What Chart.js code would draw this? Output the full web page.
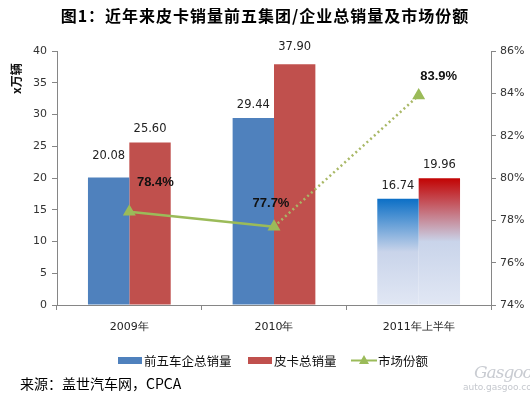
<!DOCTYPE html>
<html>
<head>
<meta charset="utf-8">
<script src="https://cdn.jsdelivr.net/npm/chart.js@4"></script>
<style>
  body { margin: 0; background: #fff; }
  #wrap { position: relative; width: 530px; height: 395px; overflow: hidden; font-family: 'Noto Sans CJK SC', sans-serif; }
  #chart { position: absolute; left: 0; top: 0; }
  .title { position: absolute; left: 0; width: 530px; top: 3px; text-align: center; font-size: 16px; font-weight: bold; letter-spacing: 1px; color: #000; }
  .ytitle { position: absolute; left: 7px; top: 94px; transform: rotate(-90deg); transform-origin: left top; font-size: 12px; font-weight: bold; color: #111; white-space: nowrap; }
  .legend { position: absolute; top: 351px; left: 0; width: 530px; font-size: 12.5px; color: #111; }
  .legend span { position: absolute; top: 0; white-space: nowrap; }
  .sw { position: absolute; top: 357px; height: 7px; width: 24px; }
  .source { position: absolute; left: 20px; top: 373px; font-size: 14px; color: #000; }
  .wm1 { position: absolute; left: 474px; top: 362px; font: italic 17px 'DejaVu Serif', serif; color: #c9ccd2; letter-spacing: -1px; }
  .wm2 { position: absolute; left: 463px; top: 382px; font: 9px 'DejaVu Sans', sans-serif; color: #c5c8ce; }
</style>
</head>
<body>
<div id="wrap">
  <canvas id="chart" width="530" height="395"></canvas>
  <div class="title">图1：近年来皮卡销量前五集团/企业总销量及市场份额</div>
  <div class="ytitle">x万辆</div>
  <div class="sw" style="left:118px; background:#4F81BD"></div>
  <div class="sw" style="left:248px; background:#C0504D"></div>
  <canvas id="lineKey" width="26" height="12" style="position:absolute; left:351px; top:354px"></canvas>
  <div class="legend">
    <span style="left:144px">前五车企总销量</span>
    <span style="left:274px">皮卡总销量</span>
    <span style="left:378px">市场份额</span>
  </div>
  <div class="source">来源：盖世汽车网，CPCA</div>
  <div class="wm1">Gasgoo</div>
  <div class="wm2">auto.gasgoo.com</div>
</div>
<script>
document.addEventListener('DOMContentLoaded', () => {

    // Chart data
    const categories = ['2009年', '2010年', '2011年上半年'];
    const top5Sales = [20.08, 29.44, 16.74];
    const pickupSales = [25.60, 37.90, 19.96];
    const marketShare = [78.4, 77.7, 83.9];

    const green = '#9BBB59';
    const tickFont = { family: "'DejaVu Sans', sans-serif", size: 11 };

    // legend key for the line series
    const lk = document.getElementById('lineKey').getContext('2d');
    lk.strokeStyle = green; lk.lineWidth = 2;
    lk.beginPath(); lk.moveTo(0, 6.5); lk.lineTo(26, 6.5); lk.stroke();
    lk.fillStyle = green;
    lk.beginPath(); lk.moveTo(13, 1); lk.lineTo(18, 10); lk.lineTo(8, 10); lk.closePath(); lk.fill();

    // 2011 bars are drawn with a fade toward the bottom
    function barFill(solid, top) {
        return (ctx) => {
            if (ctx.dataIndex !== 2) return solid;
            const chart = ctx.chart;
            const area = chart.chartArea;
            if (!area) return solid;
            const yTop = chart.scales.y.getPixelForValue(ctx.raw);
            const g = chart.ctx.createLinearGradient(0, yTop, 0, area.bottom);
            g.addColorStop(0, top);
            g.addColorStop(0.5, '#c9d4ea');
            g.addColorStop(1, '#e1e7f4');
            return g;
        };
    }

    const valueLabels = {
        id: 'valueLabels',
        afterDatasetsDraw(chart) {
            const c = chart.ctx;
            c.save();
            c.textAlign = 'center';
            c.textBaseline = 'middle';
            // bar values
            c.font = "11.5px 'DejaVu Sans', sans-serif";
            c.fillStyle = '#222';
            const barLift = [[21, 13, 13], [13, 17, 13]];
            [1, 2].forEach((di, k) => {
                chart.getDatasetMeta(di).data.forEach((el, i) => {
                    c.fillText(chart.data.datasets[di].data[i].toFixed(2), el.x, el.y - barLift[k][i]);
                });
            });
            // share values
            c.font = "bold 13px 'Liberation Sans', Arial, sans-serif";
            c.fillStyle = '#111';
            const shift = [[26, -29], [-3, -23], [20, -19]];
            chart.getDatasetMeta(0).data.forEach((el, i) => {
                c.fillText(marketShare[i].toFixed(1) + '%', el.x + shift[i][0], el.y + shift[i][1]);
            });
            c.restore();
        }
    };

    const axisGrid = { drawOnChartArea: false, color: '#868686', tickLength: 5 };

    new Chart(document.getElementById('chart'), {
        type: 'bar',
        data: {
            labels: categories,
            datasets: [
                {
                    type: 'line',
                    label: '市场份额',
                    data: marketShare,
                    yAxisID: 'y1',
                    borderColor: green,
                    backgroundColor: green,
                    borderWidth: 2.5,
                    pointStyle: 'triangle',
                    pointRadius: 5,
                    pointBackgroundColor: green,
                    pointBorderColor: green,
                    segment: {
                        borderDash: ctx => ctx.p0DataIndex === 1 ? [2, 3] : undefined,
                        borderColor: ctx => ctx.p0DataIndex === 1 ? '#a9b866' : green
                    },
                    order: 0
                },
                {
                    label: '前五车企总销量',
                    data: top5Sales,
                    yAxisID: 'y',
                    backgroundColor: barFill('#4F81BD', '#0b6fc6'),
                    categoryPercentage: 0.572,
                    barPercentage: 1.0,
                    order: 1
                },
                {
                    label: '皮卡总销量',
                    data: pickupSales,
                    yAxisID: 'y',
                    backgroundColor: barFill('#C0504D', '#c20303'),
                    categoryPercentage: 0.572,
                    barPercentage: 1.0,
                    order: 1
                }
            ]
        },
        options: {
            responsive: false,
            animation: false,
            layout: { padding: { top: 51, bottom: 50, left: 0, right: 0 } },
            plugins: {
                legend: { display: false },
                title: { display: false },
                tooltip: { enabled: false }
            },
            scales: {
                x: {
                    grid: axisGrid,
                    border: { color: '#868686' },
                    ticks: { color: '#222', font: tickFont, padding: 11 },
                    afterFit: s => { s.height = 40; }
                },
                y: {
                    position: 'left',
                    min: 0,
                    max: 40,
                    grid: axisGrid,
                    border: { color: '#868686' },
                    ticks: { stepSize: 5, color: '#333', font: tickFont, padding: 5 },
                    afterFit: s => { s.width = 57; }
                },
                y1: {
                    position: 'right',
                    min: 74,
                    max: 86,
                    grid: axisGrid,
                    border: { color: '#868686' },
                    ticks: { stepSize: 2, color: '#333', font: tickFont, padding: 4, callback: v => v + '%' },
                    afterFit: s => { s.width = 39; }
                }
            }
        },
        plugins: [valueLabels]
    });

});
</script>
</body>
</html>
